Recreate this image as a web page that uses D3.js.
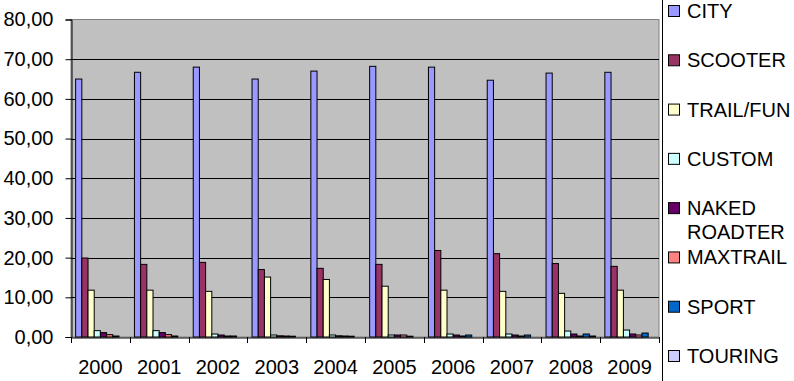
<!DOCTYPE html>
<html><head><meta charset="utf-8">
<script src="https://cdn.jsdelivr.net/npm/d3@7"></script>
<style>body{margin:0;background:#fff}svg{display:block}text{font-family:"Liberation Sans",Arial,sans-serif;fill:#000}</style>
</head><body>
<script>
const years = ["2000","2001","2002","2003","2004","2005","2006","2007","2008","2009"];
const seriesNames = ["CITY","SCOOTER","TRAIL/FUN","CUSTOM","NAKED ROADTER","MAXTRAIL","SPORT","TOURING"];
const city     = [65.0, 66.7, 68.0, 65.0, 67.0, 68.2, 68.0, 64.7, 66.5, 66.7];
const scooter  = [19.9, 18.3, 18.8, 17.0, 17.3, 18.3, 21.8, 21.0, 18.5, 17.8];
const trail    = [11.8, 11.8, 11.5, 15.1, 14.5, 12.8, 11.8, 11.5, 11.0, 11.8];
const custom   = [1.6, 1.6, 0.75, 0.5, 0.5, 0.5, 0.75, 0.75, 1.5, 1.75];
const naked    = [1.1, 1.1, 0.5, 0.3, 0.3, 0.5, 0.5, 0.5, 0.75, 0.75];
const maxtrail = [0.6, 0.6, 0.25, 0.25, 0.25, 0.5, 0.25, 0.25, 0.25, 0.5];
const sport    = [0.25, 0.25, 0.25, 0.2, 0.2, 0.2, 0.5, 0.5, 0.75, 1.0];
const touring  = [0, 0, 0, 0, 0, 0, 0, 0, 0.25, 0];
const yTicks = [0,10,20,30,40,50,60,70,80];
const colors = ["#9999FF","#993366","#FFFFCC","#CCFFFF","#660066","#FF8080","#0066CC","#CCCCFF"];
const values = [city, scooter, trail, custom, naked, maxtrail, sport, touring];

const W = 794, H = 381, FS = 20;
const svg = d3.select("body").append("svg").attr("width", W).attr("height", H);
const L = 71, R = 659, T = 19.5, B = 337;
const x0 = d3.scaleBand().domain(years).range([L, R]).paddingInner(0).paddingOuter(0);
const bw = x0.bandwidth();
const gap = bw * 1.5 / 9.5;
const x1 = d3.scaleBand().domain(seriesNames).range([gap/2, bw - gap/2]);
const y = d3.scaleLinear().domain([0, 80]).range([B, T]);
const fmt = d => d.toFixed(2).replace(".", ",");

// plot area
svg.append("rect").attr("x", L).attr("y", T).attr("width", R - L).attr("height", B - T)
  .attr("fill", "#C0C0C0").attr("stroke", "#808080").attr("stroke-width", 1);
// gridlines
svg.append("g").selectAll("line").data(yTicks.filter(t => t > 0 && t < 80)).join("line")
  .attr("x1", L).attr("x2", R).attr("y1", d => Math.round(y(d)) + 0.5).attr("y2", d => Math.round(y(d)) + 0.5)
  .attr("stroke", "#000").attr("stroke-width", 1);

// bars
const data = [];
years.forEach((yr, i) => seriesNames.forEach((s, j) => data.push({yr, s, j, v: values[j][i]})));
svg.append("g").selectAll("rect").data(data).join("rect")
  .attr("x", d => x0(d.yr) + x1(d.s))
  .attr("y", d => y(d.v))
  .attr("width", x1.bandwidth())
  .attr("height", d => B - y(d.v))
  .attr("fill", d => colors[d.j])
  .attr("stroke", "#000").attr("stroke-width", 1);

// y axis
const yAxis = d3.axisLeft(y).tickValues(yTicks).tickFormat(fmt).tickSize(6).tickPadding(12);
const ga = svg.append("g").attr("transform", `translate(${L + 0.5},0)`).call(yAxis);
ga.select(".domain").attr("stroke", "#000");
ga.selectAll("text").attr("font-size", FS).style("font-family", '"Liberation Sans", Arial, sans-serif');

// x axis
const xAxis = d3.axisBottom(x0).tickSize(0).tickPadding(22);
const gx = svg.append("g").attr("transform", `translate(0,${B + 0.5})`).call(xAxis);
gx.select(".domain").attr("stroke", "#000");
gx.selectAll("text").attr("font-size", FS).style("font-family", '"Liberation Sans", Arial, sans-serif');
// boundary ticks
const bounds = years.map(yr => x0(yr)).concat([R]);
svg.append("g").selectAll("line").data(bounds).join("line")
  .attr("x1", d => Math.round(d) + 0.5).attr("x2", d => Math.round(d) + 0.5)
  .attr("y1", B).attr("y2", B + 6).attr("stroke", "#000");

// legend
svg.append("rect").attr("x", 662.5).attr("y", -5).attr("width", 140).attr("height", H + 10)
  .attr("fill", "#fff").attr("stroke", "#000");
const legY = d3.scalePoint().domain(seriesNames).range([11, 356]);
const lg = svg.append("g").selectAll("g").data(seriesNames).join("g")
  .attr("transform", d => `translate(0,${legY(d)})`);
lg.append("rect").attr("x", 668.5).attr("y", -5.5).attr("width", 11).attr("height", 11)
  .attr("fill", (d, i) => colors[i]).attr("stroke", "#000");
lg.append("text").attr("x", 687).attr("y", 0).attr("font-size", FS)
  .each(function(d) {
    const parts = d.split(" ");
    const t = d3.select(this);
    parts.forEach((p, k) => t.append("tspan").attr("x", 687).attr("dy", k === 0 ? "0.35em" : "1.2em").text(p));
  });
</script>
</body></html>
